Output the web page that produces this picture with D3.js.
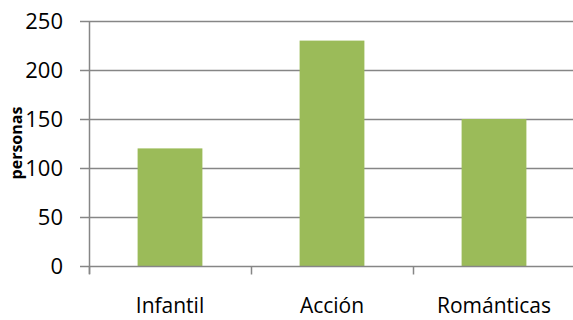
<!DOCTYPE html>
<html>
<head>
<meta charset="utf-8">
<script src="https://cdn.jsdelivr.net/npm/d3@7"></script>
<style>
  html, body { margin: 0; padding: 0; background: #fff; }
  svg { display: block; }
  text { font-family: "Open Sans", "Liberation Sans", sans-serif; fill: #000; }
</style>
</head>
<body>
<svg id="chart" width="573" height="320"></svg>
<script>
// Viewers per film genre
const categories = ["Infantil", "Acción", "Románticas"];
const values = [120, 230, 150];
const yTicks = [0, 50, 100, 150, 200, 250];
const yLabel = "personas";

const W = 573, H = 320;
const margin = { top: 21, right: -2, bottom: 54, left: 89 };
const svg = d3.select("#chart");

const x = d3.scaleBand()
  .domain(categories)
  .range([margin.left, W - margin.right])
  .paddingInner(0.6)
  .paddingOuter(0.3);

const y = d3.scaleLinear()
  .domain([0, 250])
  .range([H - margin.bottom, margin.top]);

const grey = "#868686";

// horizontal gridlines
svg.append("g")
  .selectAll("line")
  .data(yTicks.filter(d => d > 0))
  .join("line")
  .attr("x1", margin.left)
  .attr("x2", W)
  .attr("y1", d => Math.round(y(d)) + 0.5)
  .attr("y2", d => Math.round(y(d)) + 0.5)
  .attr("stroke", grey)
  .attr("stroke-width", 1.5);

// bars
svg.append("g")
  .selectAll("rect")
  .data(values)
  .join("rect")
  .attr("x", (d, i) => x(categories[i]))
  .attr("width", x.bandwidth())
  .attr("y", d => y(d))
  .attr("height", d => y(0) - y(d))
  .attr("fill", "#9BBB59");

// y axis
const yAxis = svg.append("g")
  .attr("transform", `translate(${margin.left},0)`)
  .call(d3.axisLeft(y).tickValues(yTicks).tickSize(9).tickPadding(17));
yAxis.selectAll("line, path").attr("stroke", grey).attr("stroke-width", 1.5);
yAxis.select(".domain").attr("d", `M0.5,${y(250)}V${y(0) + 8}`);
yAxis.selectAll("text").style("font-size", "22px").attr("fill", "#000")
  .style("font-family", "'Open Sans', sans-serif");

// x axis with boundary ticks between categories
const baseY = Math.round(y(0)) + 0.5;
const gx = svg.append("g");
gx.append("line")
  .attr("x1", margin.left).attr("x2", W)
  .attr("y1", baseY).attr("y2", baseY)
  .attr("stroke", grey).attr("stroke-width", 1.5);
const step = x.step();
const bounds = d3.range(categories.length + 1).map(i => x(categories[0]) - x.paddingOuter() * step + i * step);
gx.selectAll("line.tick")
  .data(bounds)
  .join("line")
  .attr("class", "tick")
  .attr("x1", d => Math.round(d) + 0.5).attr("x2", d => Math.round(d) + 0.5)
  .attr("y1", baseY).attr("y2", baseY + 8)
  .attr("stroke", grey).attr("stroke-width", 1.5);
gx.selectAll("text")
  .data(categories)
  .join("text")
  .attr("x", d => x(d) + x.bandwidth() / 2)
  .attr("y", 313)
  .attr("text-anchor", "middle")
  .style("font-size", "21px")
  .text(d => d);

// y axis title
svg.append("text")
  .attr("transform", `translate(22,143) rotate(-90)`)
  .attr("text-anchor", "middle")
  .style("font-size", "16px")
  .style("font-weight", "bold")
  .text(yLabel);
</script>
</body>
</html>
